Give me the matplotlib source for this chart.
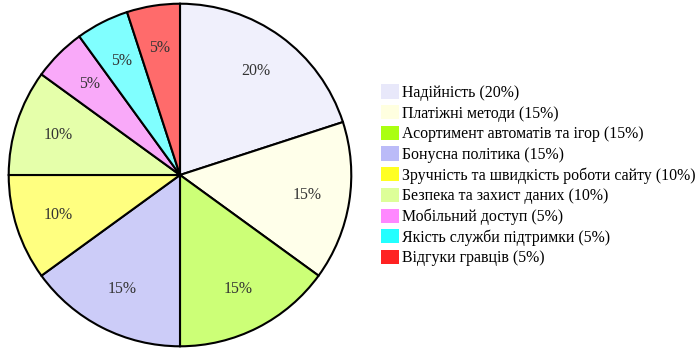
import matplotlib
matplotlib.use("Agg")
import matplotlib.pyplot as plt
from matplotlib.patches import Patch

categories = [
    "Надійність",
    "Платіжні методи",
    "Асортимент автоматів та ігор",
    "Бонусна політика",
    "Зручність та швидкість роботи сайту",
    "Безпека та захист даних",
    "Мобільний доступ",
    "Якість служби підтримки",
    "Відгуки гравців",
]
values = [20, 15, 15, 15, 10, 10, 5, 5, 5]

pie_colors = ["#F0F0FC", "#FFFFEA", "#CCFF77", "#CCCCF8", "#FFFF80",
              "#E5FFAA", "#F9A9F9", "#80FFFF", "#FF6B6B"]
legend_colors = ["#E8E8FA", "#FFFFE0", "#AAFF11", "#BBBBF8", "#FFFF22",
                 "#DDFF99", "#FF88FF", "#22FFFF", "#FF2222"]

plt.rcParams['font.family'] = ['Liberation Serif', 'DejaVu Serif']

fig = plt.figure(figsize=(7.0, 3.51), dpi=100)
cx, cy, r = 180, 175, 173
ax = fig.add_axes([(cx - r) / 700, (351 - cy - r) / 351, 2 * r / 700, 2 * r / 351])
ax.pie(values, colors=pie_colors, startangle=90, counterclock=False,
       labels=[f"{v}%" for v in values], labeldistance=0.75,
       textprops=dict(fontsize=11.4, color="#333333", ha="center", va="center"),
       wedgeprops=dict(edgecolor="black", linewidth=1.5), radius=1)
ax.set_xlim(-1.01, 1.01)
ax.set_ylim(-1.01, 1.01)
ax.set_aspect("equal")

handles = [Patch(facecolor=c, edgecolor="none") for c in legend_colors]
labels = [f"{c} ({v}%)" for c, v in zip(categories, values)]
fig.legend(handles, labels, loc="upper left", bbox_to_anchor=(375 / 700, 1 - 78 / 351),
           frameon=False, fontsize=11.4, handlelength=1.1, handleheight=1.0,
           handletextpad=0.2, labelspacing=0.265, borderaxespad=0)

fig.savefig("out.png", dpi=100)
